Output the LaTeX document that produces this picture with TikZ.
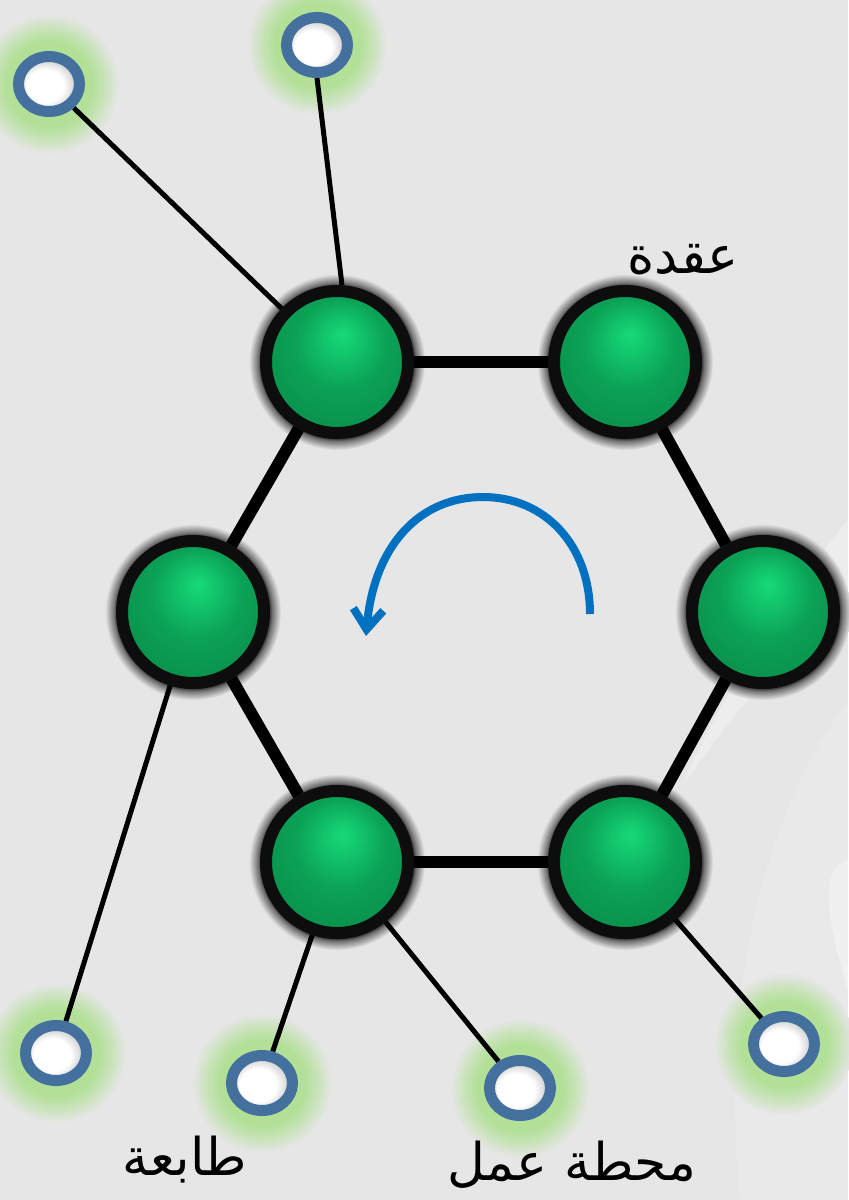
\documentclass[tikz,border=0pt]{standalone}
\usepackage{fontspec}
\newfontfamily\arabicfont[Script=Arabic]{DejaVu Sans}
\TeXXeTstate=1
\usetikzlibrary{arrows.meta,backgrounds,shapes.geometric}
\definecolor{bg}{HTML}{E6E6E6}
\definecolor{gLight}{HTML}{16DA78}
\definecolor{gMid}{HTML}{0BA256}
\definecolor{gDark}{HTML}{077A3F}
\definecolor{ringblue}{HTML}{44709E}
\definecolor{glowgreen}{HTML}{B1E096}
\definecolor{arrowblue}{HTML}{0070C0}
% note: the path's bounding box corresponds to radius 25bp of the shading
\pgfdeclareradialshading{greenball}{\pgfpoint{2bp}{10bp}}{color(0bp)=(gLight); color(5bp)=(gLight!70!gMid); color(16bp)=(gMid); color(28bp)=(gMid!90!black); color(36bp)=(gDark); color(45bp)=(gDark)}
\pgfdeclareradialshading{glowshade}{\pgfpoint{0bp}{0bp}}{color(0bp)=(glowgreen); color(15bp)=(glowgreen); color(19bp)=(glowgreen!65!bg); color(25bp)=(bg); color(40bp)=(bg)}
\pgfdeclareradialshading{nodeshadow}{\pgfpoint{0bp}{0bp}}{color(0bp)=(black); color(21bp)=(black); color(22.5bp)=(black!50!bg); color(25bp)=(bg); color(40bp)=(bg)}
\pgfdeclareradialshading{whiteball}{\pgfpoint{-5bp}{-3bp}}{color(0bp)=(white); color(15bp)=(white); color(22bp)=(gray!30); color(28bp)=(gray!55); color(40bp)=(gray!55)}
\tikzset{
  bignode/.style={circle, draw=black!95, line width=6pt, minimum size=71pt, inner sep=0pt, shading=greenball},
  smallnode/.style={ellipse, draw=ringblue, line width=5.5pt, minimum width=30.5pt, minimum height=27.5pt, inner sep=0pt, shading=whiteball},
  lbl/.style={font=\arabicfont\fontsize{26}{30}\selectfont, text=black, inner sep=0pt},
  ringedge/.style={line width=6pt, black},
  linkedge/.style={line width=2.5pt, black},
  glow/.style={shading=glowshade},
  halo/.style={shading=nodeshadow}
}
\begin{document}
\begin{tikzpicture}[x=0.5pt,y=-0.5pt]
\useasboundingbox (0,0) rectangle (848,1200);
% big nodes
\node[bignode] (tl) at (337,362) {};
\node[bignode] (tr) at (625,362) {};
\node[bignode] (l)  at (193,612) {};
\node[bignode] (r)  at (763,612) {};
\node[bignode] (bl) at (337,862) {};
\node[bignode] (br) at (625,862) {};
% small nodes
\node[smallnode] (s1) at (49,84) {};
\node[smallnode] (s2) at (317,45) {};
\node[smallnode] (s3) at (56,1053) {};
\node[smallnode] (s4) at (262,1083) {};
\node[smallnode] (s5) at (520,1088) {};
\node[smallnode] (s6) at (784,1044) {};
% labels
\node[lbl] (lab1) at (683,260) {\beginR عقدة\endR};
\node[lbl] (lab2) at (185,1160) {\beginR طابعة\endR};
\node[lbl] (lab3) at (572,1165) {\beginR محطة عمل\endR};
% rotation arrow
\coordinate (as) at (590,614);
\coordinate (am) at (483,497);
\coordinate (ae) at (366,636);
\draw[arrowblue, line width=4pt, -{Straight Barb[length=10pt,width=15pt]}]
  (as) .. controls (590,545) and (545,497) .. (am)
       .. controls (420,497) and (374,545) .. (ae);
\begin{pgfonlayer}{background}
  \fill[bg] (0,0) rectangle (848,1200);
  % subtle background swooshes
  \fill[white, opacity=0.3] (848,520) .. controls (780,600) and (720,700) .. (680,790)
     .. controls (740,700) and (800,640) .. (848,600) -- cycle;
  \fill[white, opacity=0.35] (848,860) .. controls (825,865) and (820,900) .. (848,990) -- cycle;
  \fill[white, opacity=0.15] (848,700) .. controls (760,820) and (720,1000) .. (740,1200)
     -- (848,1200) -- cycle;
  % glows
  \foreach \n in {s1,s2,s3,s4,s5,s6}{
    \shade[glow] (\n.center) circle[radius=70];
  }
  % shadows
  \foreach \n in {tl,tr,l,r,bl,br}{
    \shade[halo] (\n.center) circle[radius=88];
  }
  % ring edges
  \draw[ringedge] (tl) -- (tr);
  \draw[ringedge] (tr) -- (r);
  \draw[ringedge] (r) -- (br);
  \draw[ringedge] (br) -- (bl);
  \draw[ringedge] (bl) -- (l);
  \draw[ringedge] (l) -- (tl);
  % links
  \draw[linkedge] (s1) -- (tl);
  \draw[linkedge] (s2.south) -- ([xshift=2.5pt]tl.north);
  \draw[linkedge] (s3) -- (l);
  \draw[linkedge] (s4) -- (bl);
  \draw[linkedge] (s5) -- (bl);
  \draw[linkedge] (s6) -- (br);
\end{pgfonlayer}
\end{tikzpicture}
\end{document}
